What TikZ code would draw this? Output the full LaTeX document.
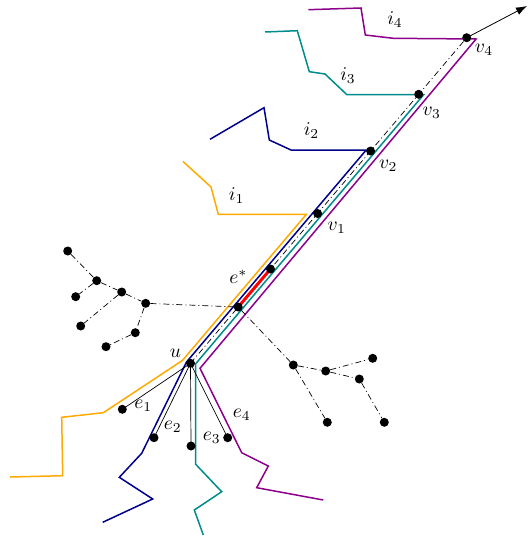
\documentclass[tikz,border=0pt]{standalone}
\usetikzlibrary{arrows.meta}
\definecolor{corange}{RGB}{255,170,0}
\definecolor{cnavy}{RGB}{0,0,140}
\definecolor{cteal}{RGB}{0,140,140}
\definecolor{cpurple}{RGB}{140,0,140}
\pgfdeclarelayer{bg}
\pgfsetlayers{bg,main}
\begin{document}
\begin{tikzpicture}[x=1pt,y=-1pt,
  dot/.style={circle,fill=black,inner sep=0pt,minimum size=9pt},
  lbl/.style={inner sep=0pt,scale=1.95},
  dd/.style={line width=0.7pt,dash pattern=on 6pt off 3pt on 1pt off 3pt},
  route/.style={line width=1.5pt,line join=miter},
  eedge/.style={line width=0.7pt},
  estar/.style={red,line width=3pt}]
\useasboundingbox (0,0) rectangle (528,543);
% main line nodes
\node[dot] (u) at (190.5,363.3) {};
\node[dot] (a) at (238.2,307) {};
\node[dot] (b) at (270.5,269) {};
\node[dot] (v1) at (317.6,213.5) {};
\node[dot] (v2) at (370.6,151) {};
\node[dot] (v3) at (418.7,94.3) {};
\node[dot] (v4) at (466.7,37.7) {};
\coordinate (tip) at (527,6);
% left tree
\node[dot] (L1) at (67.7,251) {};
\node[dot] (L2) at (96.7,280.7) {};
\node[dot] (L3) at (75.7,296.7) {};
\node[dot] (L4) at (121.7,292) {};
\node[dot] (L5) at (145.7,303.3) {};
\node[dot] (L6) at (80.7,326) {};
\node[dot] (L7) at (135.3,332.7) {};
\node[dot] (L8) at (106,346.7) {};
% right tree
\node[dot] (R1) at (293.3,365) {};
\node[dot] (R2) at (325.7,371) {};
\node[dot] (R3) at (372.7,358.3) {};
\node[dot] (R4) at (359.3,379) {};
\node[dot] (R5) at (327.3,422.3) {};
\node[dot] (R6) at (384.3,422.3) {};
% e nodes
\node[dot] (e1) at (122.3,409.3) {};
\node[dot] (e2) at (154,437.7) {};
\node[dot] (e3) at (191,446) {};
\node[dot] (e4) at (227.7,437.7) {};
% labels
\node[lbl] (li4) at (395,20) {$i_4$};
\node[lbl] (li3) at (348,76) {$i_3$};
\node[lbl] (li2) at (311.5,131) {$i_2$};
\node[lbl] (li1) at (236.7,196) {$i_1$};
\node[lbl] (lv1) at (336.7,228) {$v_1$};
\node[lbl] (lv2) at (388.3,166) {$v_2$};
\node[lbl] (lv3) at (431.7,112.5) {$v_3$};
\node[lbl] (lv4) at (484,49.5) {$v_4$};
\node[lbl] (les) at (238.3,277) {$e^*$};
\node[lbl] (lu) at (175.5,353) {$u$};
\node[lbl] (le1) at (143.3,406) {$e_1$};
\node[lbl] (le2) at (172.7,426.5) {$e_2$};
\node[lbl] (le3) at (211.7,437.5) {$e_3$};
\node[lbl] (le4) at (241.7,415) {$e_4$};
\begin{pgfonlayer}{bg}
% coloured routes
\draw[route,corange] (183,161.5) -- (211,187) -- (218.3,214.3) -- (306.4,214.3) -- (182.5,360.4) -- (103.3,412.7) -- (61.7,417.3) -- (62.7,475.7) -- (10,477);
\draw[route,cnavy] (210,139.3) -- (264,107.7) -- (269.3,140) -- (291,150) -- (366.2,150) -- (186.5,362) -- (141.7,453.3) -- (119.3,477.3) -- (152.7,499) -- (102.7,522.3);
\draw[route,cteal] (265,32) -- (297.3,30.7) -- (309.3,71.7) -- (325,74) -- (346.7,94.5) -- (423.8,94.5) -- (195.5,364) -- (195.7,464.3) -- (221.7,491.7) -- (194.3,510) -- (203.3,535);
\draw[route,cpurple] (308.3,9.7) -- (361,8) -- (365.3,35) -- (393.3,38.3) -- (476.1,39) -- (200,368.3) -- (241.7,452.7) -- (268.3,466) -- (256.7,487.7) -- (323.3,500);
% main dash-dot line and e*
\draw[dd] (u.center) -- (v4.center);
\draw[estar] (a.center) -- (b.center);
\draw[line width=0.8pt,-{Latex[length=11pt,width=8pt]}] (v4.center) -- (tip);
% trees
\draw[dd] (L1) -- (L2);
\draw[dd] (L2) -- (L3);
\draw[dd] (L2) -- (L4);
\draw[dd] (L4) -- (L6);
\draw[dd] (L4) -- (L5);
\draw[dd] (L5) -- (L7);
\draw[dd] (L7) -- (L8);
\draw[dd] (L5) -- (a);
\draw[dd] (a) -- (R1);
\draw[dd] (R1) -- (R2);
\draw[dd] (R2) -- (R3);
\draw[dd] (R2) -- (R4);
\draw[dd] (R4) -- (R6);
\draw[dd] (R1) -- (R5);
% e edges
\draw[eedge] (u.center) -- (e1.center);
\draw[eedge] (u.center) -- (e2.center);
\draw[eedge] (u.center) -- (e3.center);
\draw[eedge] (u.center) -- (e4.center);
\end{pgfonlayer}
\end{tikzpicture}
\end{document}
